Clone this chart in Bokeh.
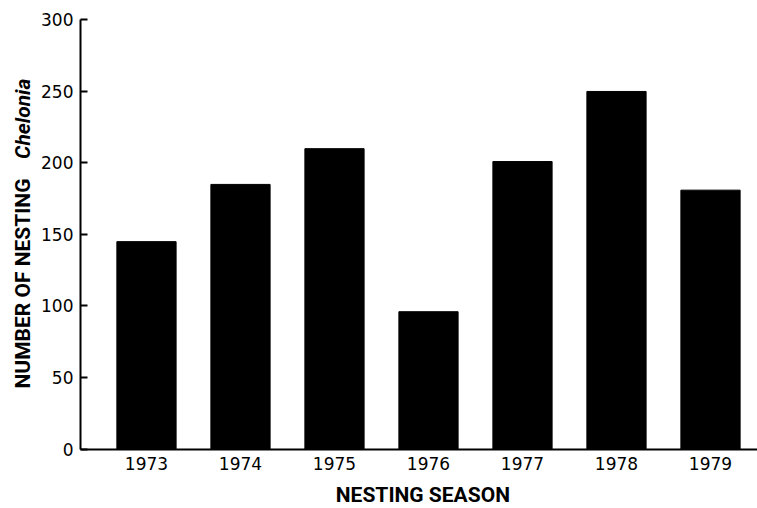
from bokeh.plotting import figure
from bokeh.models import Range1d, FixedTicker, Label
from bokeh.embed import file_html
from bokeh.resources import INLINE
import math

# ---- data ----
seasons = [1973, 1974, 1975, 1976, 1977, 1978, 1979]
nesting_counts = [145, 185, 210, 96, 201, 250, 181]
y_ticks = [0, 50, 100, 150, 200, 250, 300]
x_tick_labels = {y: str(y) for y in seasons}

# view window (data units covering the whole canvas)
X0, X1 = 1971.447, 1979.5
Y0, Y1 = -41.6, 313.6
AXIS_X = 1972.298   # where the y axis stands

p = figure(width=757, height=508, output_backend="svg", toolbar_location=None,
           x_range=Range1d(X0, X1), y_range=Range1d(Y0, Y1))
p.min_border = 0
p.outline_line_color = None
p.xgrid.grid_line_color = None
p.ygrid.grid_line_color = None
p.background_fill_color = "white"
p.border_fill_color = "white"

p.vbar(x=seasons, top=nesting_counts, bottom=0, width=0.63,
       fill_color="black", line_color="black")

# y axis
yax = p.yaxis[0]
yax.fixed_location = AXIS_X
yax.bounds = (0, 300)
yax.ticker = FixedTicker(ticks=y_ticks)
yax.axis_line_width = 2
yax.axis_line_color = "black"
yax.major_tick_in = 7
yax.major_tick_out = 0
yax.major_tick_line_width = 2
yax.minor_tick_line_color = None
yax.major_label_standoff = 7
yax.major_label_text_font = "DejaVu Sans"
yax.major_label_text_font_size = "17px"
yax.major_label_text_color = "black"

# x axis
xax = p.xaxis[0]
xax.fixed_location = 0
xax.bounds = (AXIS_X, X1)
xax.ticker = FixedTicker(ticks=seasons)
xax.major_label_overrides = x_tick_labels
xax.axis_line_width = 2
xax.axis_line_color = "black"
xax.major_tick_line_color = None
xax.minor_tick_line_color = None
xax.major_label_standoff = 2
xax.major_label_text_font = "DejaVu Sans"
xax.major_label_text_font_size = "17px"
xax.major_label_text_color = "black"

# y axis title: "NUMBER OF NESTING" + italic "Chelonia"
p.add_layout(Label(x=1971.686, y=42.3, text="NUMBER OF NESTING", angle=math.pi / 2,
                   text_align="left", text_baseline="middle",
                   text_font="Roboto", text_font_style="bold",
                   text_font_size="21px", text_color="black"))
p.add_layout(Label(x=1971.686, y=259, text="Chelonia", angle=math.pi / 2,
                   text_align="right", text_baseline="middle",
                   text_font="Roboto", text_font_style="bold italic",
                   text_font_size="21px", text_color="black"))

# x axis title
p.add_layout(Label(x=1975.968, y=-32.0, text="NESTING  SEASON",
                   text_align="center", text_baseline="middle",
                   text_font="Roboto", text_font_style="bold",
                   text_font_size="21px", text_color="black"))

open("out.html", "w").write(file_html(p, INLINE))
